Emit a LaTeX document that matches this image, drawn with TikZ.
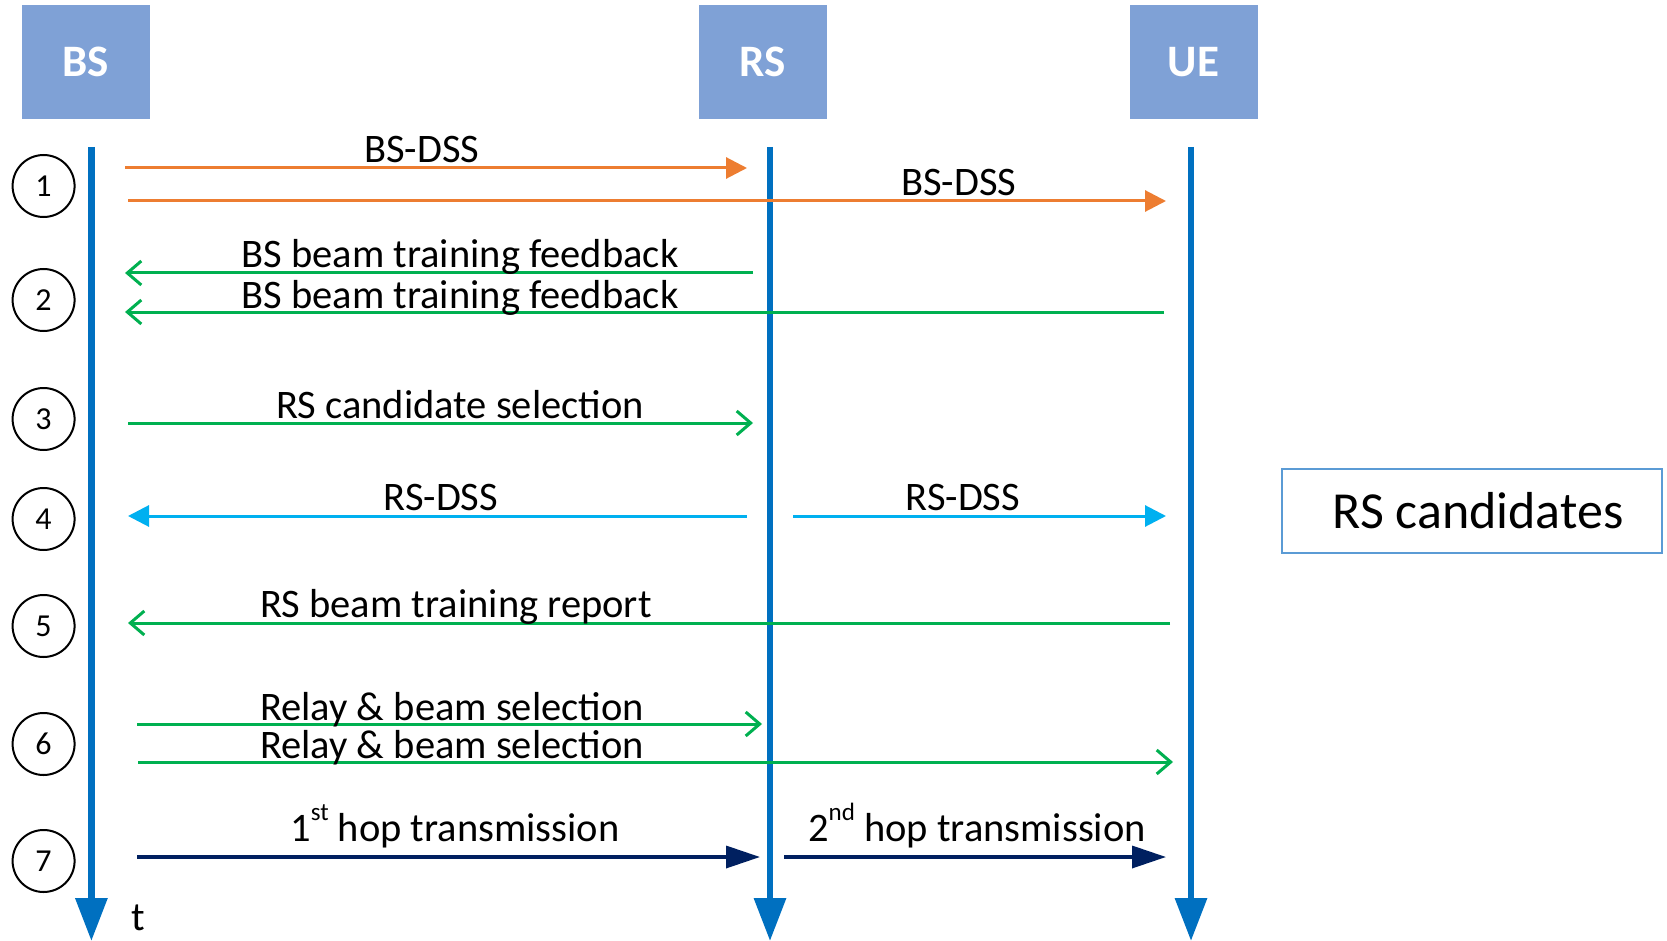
\documentclass[tikz,border=0pt]{standalone}
\usepackage{fontspec}
\setmainfont{Carlito}
\usetikzlibrary{arrows.meta}
\definecolor{boxblue}{RGB}{127,161,214}
\definecolor{lifeblue}{RGB}{0,112,192}
\definecolor{msgorange}{RGB}{237,125,49}
\definecolor{msggreen}{RGB}{0,176,80}
\definecolor{msgcyan}{RGB}{0,176,240}
\definecolor{msgnavy}{RGB}{0,32,96}
\definecolor{candblue}{RGB}{91,155,213}
\newcommand{\supx}[1]{\raisebox{0.5em}{\fontsize{25}{30}\selectfont #1}}
\begin{document}
\begin{tikzpicture}[x=1pt,y=-1pt,
  entity/.style={fill=boxblue, text=white, font=\fontsize{45}{54}\selectfont\bfseries,
    minimum width=128pt, minimum height=114pt, inner sep=0pt},
  lifeline/.style={draw=lifeblue, line width=6.4pt, -{Triangle[length=43pt,width=31pt]}},
  stepnum/.style={circle, draw=black, line width=2pt, minimum size=62pt, inner sep=0pt,
    font=\fontsize{32}{38}\selectfont},
  lbl/.style={anchor=base, inner sep=0pt, font=\fontsize{40.5}{48}\selectfont},
  orangemsg/.style={draw=msgorange, line width=3pt, -{Triangle[length=21pt,width=21pt]}},
  cyanmsg/.style={draw=msgcyan, line width=3pt, -{Triangle[length=21pt,width=21pt]}},
  greenmsg/.style={draw=msggreen, line width=3pt, -{Straight Barb[length=14pt,width=24pt,line width=3pt]}},
  navymsg/.style={draw=msgnavy, line width=3.5pt, -{Triangle[length=34pt,width=22pt]}},
  candbox/.style={draw=candblue, line width=2.5pt, minimum width=380pt, minimum height=84pt,
    inner sep=0pt, font=\fontsize{52}{62}\selectfont}
]
\useasboundingbox (0,0) rectangle (1667,941);

% entities
\node[entity] (BS) at (86,62) {BS};
\node[entity] (RS) at (763,62) {RS};
\node[entity] (UE) at (1193.5,62) {UE};

% lifelines
\coordinate (BStop) at (91.4,147);
\coordinate (BSbot) at (91.4,941);
\coordinate (RStop) at (770,147);
\coordinate (RSbot) at (770,941);
\coordinate (UEtop) at (1191,147);
\coordinate (UEbot) at (1191,941);
\draw[lifeline] (BStop) -- (BSbot);
\draw[lifeline] (RStop) -- (RSbot);
\draw[lifeline] (UEtop) -- (UEbot);

% step numbers
\node[stepnum] (c1) at (43.6,186) {1};
\node[stepnum] (c2) at (43.6,300) {2};
\node[stepnum] (c3) at (43.6,419) {3};
\node[stepnum] (c4) at (43.6,519) {4};
\node[stepnum] (c5) at (43.6,626) {5};
\node[stepnum] (c6) at (43.6,744) {6};
\node[stepnum] (c7) at (43.6,861) {7};

% message end points
\coordinate (m1as) at (125,168);  \coordinate (m1ae) at (747,168);
\coordinate (m1bs) at (128,201);  \coordinate (m1be) at (1166,201);
\coordinate (m2as) at (753,273);  \coordinate (m2ae) at (125,273);
\coordinate (m2bs) at (1164,312); \coordinate (m2be) at (125,312);
\coordinate (m3s)  at (128,423);  \coordinate (m3e)  at (753,423);
\coordinate (m4as) at (747,516);  \coordinate (m4ae) at (128,516);
\coordinate (m4bs) at (793,516);  \coordinate (m4be) at (1166,516);
\coordinate (m5s)  at (1170,623); \coordinate (m5e)  at (128,623);
\coordinate (m6as) at (137,724);  \coordinate (m6ae) at (762,724);
\coordinate (m6bs) at (138,762);  \coordinate (m6be) at (1173,762);
\coordinate (m7as) at (137,857);  \coordinate (m7ae) at (760,857);
\coordinate (m7bs) at (784,857);  \coordinate (m7be) at (1166,857);

% messages
\draw[orangemsg] (m1as) -- (m1ae);
\draw[orangemsg] (m1bs) -- (m1be);
\draw[greenmsg] (m2as) -- (m2ae);
\draw[greenmsg] (m2bs) -- (m2be);
\draw[greenmsg] (m3s) -- (m3e);
\draw[cyanmsg] (m4as) -- (m4ae);
\draw[cyanmsg] (m4bs) -- (m4be);
\draw[greenmsg] (m5s) -- (m5e);
\draw[greenmsg] (m6as) -- (m6ae);
\draw[greenmsg] (m6bs) -- (m6be);
\draw[navymsg] (m7as) -- (m7ae);
\draw[navymsg] (m7bs) -- (m7be);

% labels
\node[lbl] (l1a) at (422,163) {BS-DSS};
\node[lbl] (l1b) at (959,196) {BS-DSS};
\node[lbl] (l2a) at (460,268) {BS beam training feedback};
\node[lbl] (l2b) at (460,308) {BS beam training feedback};
\node[lbl] (l3)  at (460,418) {RS candidate selection};
\node[lbl] (l4a) at (441,510) {RS-DSS};
\node[lbl] (l4b) at (963,510) {RS-DSS};
\node[lbl] (l5)  at (456,617) {RS beam training report};
\node[lbl] (l6a) at (452,720) {Relay \& beam selection};
\node[lbl] (l6b) at (452,758) {Relay \& beam selection};
\node[lbl] (l7a) at (455,841) {1\supx{st} hop transmission};
\node[lbl] (l7b) at (977,841) {2\supx{nd} hop transmission};

% time label
\node[lbl] (t) at (138,930) {t};

% RS candidates box
\node[candbox] (cand) at (1472,511) {\hspace*{12pt}RS candidates};
\end{tikzpicture}
\end{document}
